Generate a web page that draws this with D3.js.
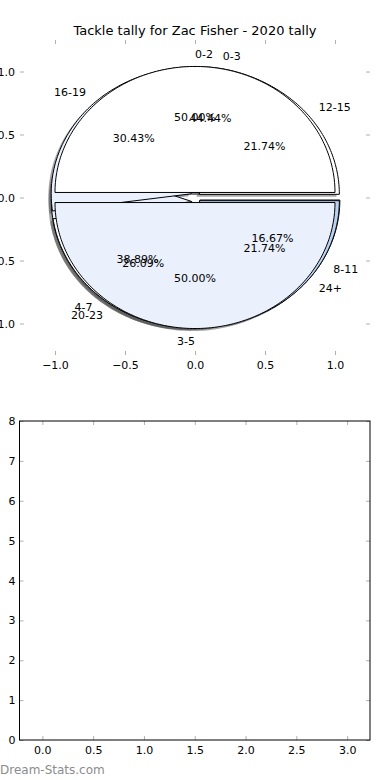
<!DOCTYPE html>
<html>
<head>
<meta charset="utf-8">
<script src="https://cdn.jsdelivr.net/npm/d3@7"></script>
<style>
  body { margin: 0; background: #fff; }
  svg { display: block; }
  text { font-family: "DejaVu Sans", sans-serif; fill: #000; }
</style>
</head>
<body>
<div id="wrapper"></div>
<script>
const titleText = "Tackle tally for Zac Fisher - 2020 tally"

// three pies drawn on the same axes, in this order
const pieALabels = ["0-3", "4-7", "8-11"]
const pieAValues = [8, 7, 3]
const pieBLabels = ["12-15", "16-19", "20-23", "24+"]
const pieBValues = [5, 7, 6, 5]
const pieCLabels = ["0-2", "3-5"]
const pieCValues = [9, 9]

const sliceColors = ["#ffffff", "#eaf0fc", "#ffffff", "#bad2f1"]
const explodeBy = 0.04

const pieTicks = [-1.0, -0.5, 0.0, 0.5, 1.0]
const barXTicks = [0, 0.5, 1, 1.5, 2, 2.5, 3]
const barYTicks = [0, 1, 2, 3, 4, 5, 6, 7, 8]

const watermark = "Dream-Stats.com"

const width = 390
const height = 780

const svg = d3.select("#wrapper")
  .append("svg")
  .attr("width", width)
  .attr("height", height)

// ---- pie axes ----
const pieBox = { left: 20, right: 370, top: 40, bottom: 355 }

const xScale = d3.scaleLinear()
  .domain([-1.25, 1.25])
  .range([pieBox.left, pieBox.right])
const yScale = d3.scaleLinear()
  .domain([-1.25, 1.25])
  .range([pieBox.bottom, pieBox.top])

svg.append("text")
  .attr("x", (pieBox.left + pieBox.right) / 2)
  .attr("y", 35)
  .attr("text-anchor", "middle")
  .style("font-size", "13px")
  .text(titleText)

function styleTicks(g) {
  g.select(".domain").remove()
  g.selectAll(".tick line").attr("stroke", "#b0b0b0")
  g.selectAll(".tick text").style("font-size", "11px").attr("fill", "#000")
    .style("font-family", "'DejaVu Sans', sans-serif")
}

const fmt = d3.format(".1f")

svg.append("g")
  .attr("transform", `translate(0,${pieBox.bottom})`)
  .call(d3.axisBottom(xScale).tickValues(pieTicks).tickFormat(fmt).tickSizeInner(-4).tickSizeOuter(0).tickPadding(6))
  .call(styleTicks)
svg.append("g")
  .attr("transform", `translate(0,${pieBox.top})`)
  .call(d3.axisTop(xScale).tickValues(pieTicks).tickFormat("").tickSizeInner(-4).tickSizeOuter(0))
  .call(styleTicks)
svg.append("g")
  .attr("transform", `translate(${pieBox.left},0)`)
  .call(d3.axisLeft(yScale).tickValues(pieTicks).tickFormat(fmt).tickSizeInner(-4).tickSizeOuter(0).tickPadding(5))
  .call(styleTicks)
svg.append("g")
  .attr("transform", `translate(${pieBox.right},0)`)
  .call(d3.axisRight(yScale).tickValues(pieTicks).tickFormat("").tickSizeInner(-4).tickSizeOuter(0))
  .call(styleTicks)

const shadowLayer = svg.append("g")
const wedgeLayer = svg.append("g")
const textLayer = svg.append("g")

// matplotlib style: counter-clockwise from 3 o'clock
function buildWedges(labels, values) {
  const arcs = d3.pie().sort(null).startAngle(0).endAngle(2 * Math.PI)(values)
  return arcs.map((a, i) => {
    const t1 = a.startAngle
    const t2 = a.endAngle
    const tm = (t1 + t2) / 2
    return {
      label: labels[i],
      pct: (a.endAngle - a.startAngle) / (2 * Math.PI) * 100,
      t1, t2, tm,
      cx: explodeBy * Math.cos(tm),
      cy: explodeBy * Math.sin(tm),
      color: sliceColors[i % sliceColors.length]
    }
  })
}

function wedgePath(w, dx, dy) {
  const steps = Math.max(8, Math.ceil((w.t2 - w.t1) / 0.02))
  const pts = [[w.cx + dx, w.cy + dy]]
  for (let s = 0; s <= steps; s++) {
    const t = w.t1 + (w.t2 - w.t1) * s / steps
    pts.push([w.cx + dx + Math.cos(t), w.cy + dy + Math.sin(t)])
  }
  return d3.line().x(p => xScale(p[0])).y(p => yScale(p[1]))(pts) + "Z"
}

function drawPie(labels, values) {
  const wedges = buildWedges(labels, values)

  shadowLayer.selectAll(null)
    .data(wedges)
    .enter()
    .append("path")
    .attr("d", w => wedgePath(w, -0.02, -0.02))
    .attr("fill", w => {
      const c = d3.rgb(w.color)
      return `rgba(${c.r * 0.3},${c.g * 0.3},${c.b * 0.3},0.5)`
    })
    .attr("stroke", "none")

  wedgeLayer.selectAll(null)
    .data(wedges)
    .enter()
    .append("path")
    .attr("d", w => wedgePath(w, 0, 0))
    .attr("fill", w => w.color)
    .attr("stroke", "#000")
    .attr("stroke-width", 1)
    .attr("stroke-linejoin", "miter")

  textLayer.selectAll(null)
    .data(wedges)
    .enter()
    .append("text")
    .attr("x", w => xScale(w.cx + 1.1 * Math.cos(w.tm)))
    .attr("y", w => yScale(w.cy + 1.1 * Math.sin(w.tm)))
    .attr("dy", "0.35em")
    .attr("text-anchor", w => Math.cos(w.tm) > 0 ? "start" : "end")
    .style("font-size", "11px")
    .text(w => w.label)

  textLayer.selectAll(null)
    .data(wedges)
    .enter()
    .append("text")
    .attr("x", w => xScale(w.cx + 0.6 * Math.cos(w.tm)))
    .attr("y", w => yScale(w.cy + 0.6 * Math.sin(w.tm)))
    .attr("dy", "0.35em")
    .attr("text-anchor", "middle")
    .style("font-size", "11px")
    .text(w => w.pct.toFixed(2) + "%")
}

drawPie(pieALabels, pieAValues)
drawPie(pieBLabels, pieBValues)
drawPie(pieCLabels, pieCValues)

// ---- empty bottom axes ----
const barBox = { left: 19.5, right: 370, top: 421, bottom: 740 }

const bx = d3.scaleLinear()
  .domain([-0.225, 3.225])
  .range([barBox.left, barBox.right])
const by = d3.scaleLinear()
  .domain([0, 8])
  .range([barBox.bottom, barBox.top])

svg.append("g")
  .attr("transform", `translate(0,${barBox.bottom})`)
  .call(d3.axisBottom(bx).tickValues(barXTicks).tickFormat(fmt).tickSizeInner(-4).tickSizeOuter(0).tickPadding(6))
  .call(styleTicks)
svg.append("g")
  .attr("transform", `translate(0,${barBox.top})`)
  .call(d3.axisTop(bx).tickValues(barXTicks).tickFormat("").tickSizeInner(-4).tickSizeOuter(0))
  .call(styleTicks)
svg.append("g")
  .attr("transform", `translate(${barBox.left},0)`)
  .call(d3.axisLeft(by).tickValues(barYTicks).tickFormat(d3.format("d")).tickSizeInner(-4).tickSizeOuter(0).tickPadding(4))
  .call(styleTicks)
svg.append("g")
  .attr("transform", `translate(${barBox.right},0)`)
  .call(d3.axisRight(by).tickValues(barYTicks).tickFormat("").tickSizeInner(-4).tickSizeOuter(0))
  .call(styleTicks)

svg.append("rect")
  .attr("x", barBox.left)
  .attr("y", barBox.top)
  .attr("width", barBox.right - barBox.left)
  .attr("height", barBox.bottom - barBox.top)
  .attr("fill", "none")
  .attr("stroke", "#000")
  .attr("stroke-width", 1)

svg.append("text")
  .attr("x", 0)
  .attr("y", 774)
  .style("font-size", "12px")
  .style("fill", "#8c8c8c")
  .text(watermark)
</script>
</body>
</html>
